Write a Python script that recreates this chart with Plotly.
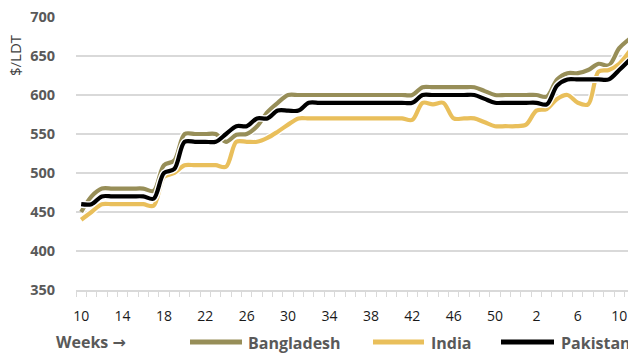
import plotly.graph_objects as go

# Week numbers: week 10 of one year through week 11 of the next
WEEKS = list(range(10, 53)) + list(range(1, 12))

BANGLADESH = [450, 470, 480, 480, 480, 480, 480, 477, 510, 516,
              550, 550, 550, 550, 540, 549, 550, 560, 578, 590,
              600, 600, 600, 600, 600, 600, 600, 600, 600, 600,
              600, 600, 600, 610, 610, 610, 610, 610, 610, 605,
              600, 600, 600, 600, 600, 598, 620, 628, 628, 632,
              640, 638, 660, 672]

INDIA = [440, 450, 460, 460, 460, 460, 460, 458, 495, 500,
         510, 510, 510, 510, 508, 540, 540, 540, 545, 553,
         562, 570, 570, 570, 570, 570, 570, 570, 570, 570,
         570, 570, 568, 590, 588, 590, 570, 570, 570, 565,
         560, 560, 560, 562, 580, 582, 595, 600, 590, 588,
         630, 632, 640, 656]

PAKISTAN = [460, 460, 470, 470, 470, 470, 470, 467, 500, 505,
            540, 540, 540, 540, 550, 560, 560, 570, 570, 580,
            580, 580, 590, 590, 590, 590, 590, 590, 590, 590,
            590, 590, 590, 600, 600, 600, 600, 600, 600, 595,
            590, 590, 590, 590, 590, 588, 612, 620, 620, 620,
            620, 620, 632, 645]

SERIES = [("Bangladesh", BANGLADESH, "#978E58"),
          ("India", INDIA, "#E9BF5B"),
          ("Pakistan", PAKISTAN, "#000000")]

FONT = "Open Sans"
W, H = 628, 354
L, R, T, B = 76, 0, 17, 64
PW, PH = W - L - R, H - T - B

x = list(range(len(WEEKS)))
tick_idx = [i for i in x if i % 4 == 0 and i <= 52]

fig = go.Figure()
for name, vals, color in SERIES:
    # white outline under each series
    fig.add_trace(go.Scatter(x=x, y=vals, mode="lines", showlegend=False,
                             hoverinfo="skip",
                             line=dict(color="white", width=7, shape="spline", smoothing=0.9)))
    fig.add_trace(go.Scatter(x=x, y=vals, mode="lines", name=name, showlegend=False,
                             line=dict(color=color, width=4.2, shape="spline", smoothing=0.9)))


def px(X):
    return (X - L) / PW


def py(Y):
    return 1 - (Y - T) / PH


shapes = []
annotations = []
legend_items = [("Bangladesh", "#978E58", 190, 242, 246),
                ("India", "#E9BF5B", 373, 424, 429),
                ("Pakistan", "#000000", 501, 554, 559)]
LEG_Y = 342
for name, color, x0, x1, xt in legend_items:
    shapes.append(dict(type="line", xref="paper", yref="paper",
                       x0=px(x0), x1=px(x1), y0=py(LEG_Y), y1=py(LEG_Y),
                       line=dict(color=color, width=5)))
    annotations.append(dict(text=name, xref="paper", yref="paper",
                            x=px(xt), y=py(LEG_Y + 1), xanchor="left", yanchor="middle",
                            showarrow=False,
                            font=dict(family=FONT, size=16, color="#595959", weight="bold")))

annotations.append(dict(text="Weeks <span style='font-family:DejaVu Sans'>\u2192</span>",
                        xref="paper", yref="paper",
                        x=px(54), y=py(LEG_Y), xanchor="left", yanchor="middle",
                        showarrow=False,
                        font=dict(family=FONT, size=16, color="#595959", weight="bold")))
annotations.append(dict(text="$/LDT", xref="paper", yref="paper",
                        x=px(15), y=py(55), xanchor="center", yanchor="middle",
                        textangle=-90, showarrow=False,
                        font=dict(family=FONT, size=15, color="#404040")))

fig.update_layout(
    width=W, height=H, autosize=False,
    margin=dict(l=L, r=R, t=T, b=B, pad=0),
    paper_bgcolor="white", plot_bgcolor="white",
    shapes=shapes, annotations=annotations,
    xaxis=dict(range=[-0.5, 52.85], tickmode="array", tickvals=tick_idx,
               ticktext=[str(WEEKS[i]) for i in tick_idx],
               showgrid=False, zeroline=False, showline=True,
               linecolor="#D9D9D9", linewidth=1.5, ticks="",
               ticklabelstandoff=12,
               minor=dict(ticks="outside", tick0=-0.5, dtick=1, ticklen=5,
                          tickcolor="#D9D9D9", tickwidth=1.2, showgrid=False),
               tickfont=dict(family=FONT, size=14, color="#1A1A1A")),
    yaxis=dict(range=[350, 700], dtick=50, tick0=350, showgrid=True,
               gridcolor="#D9D9D9", gridwidth=1.5, zeroline=False, showline=False,
               ticks="", ticklabelstandoff=20,
               tickfont=dict(family=FONT, size=14.5, color="#595959", weight="bold")),
)

fig.write_html("out.html")
